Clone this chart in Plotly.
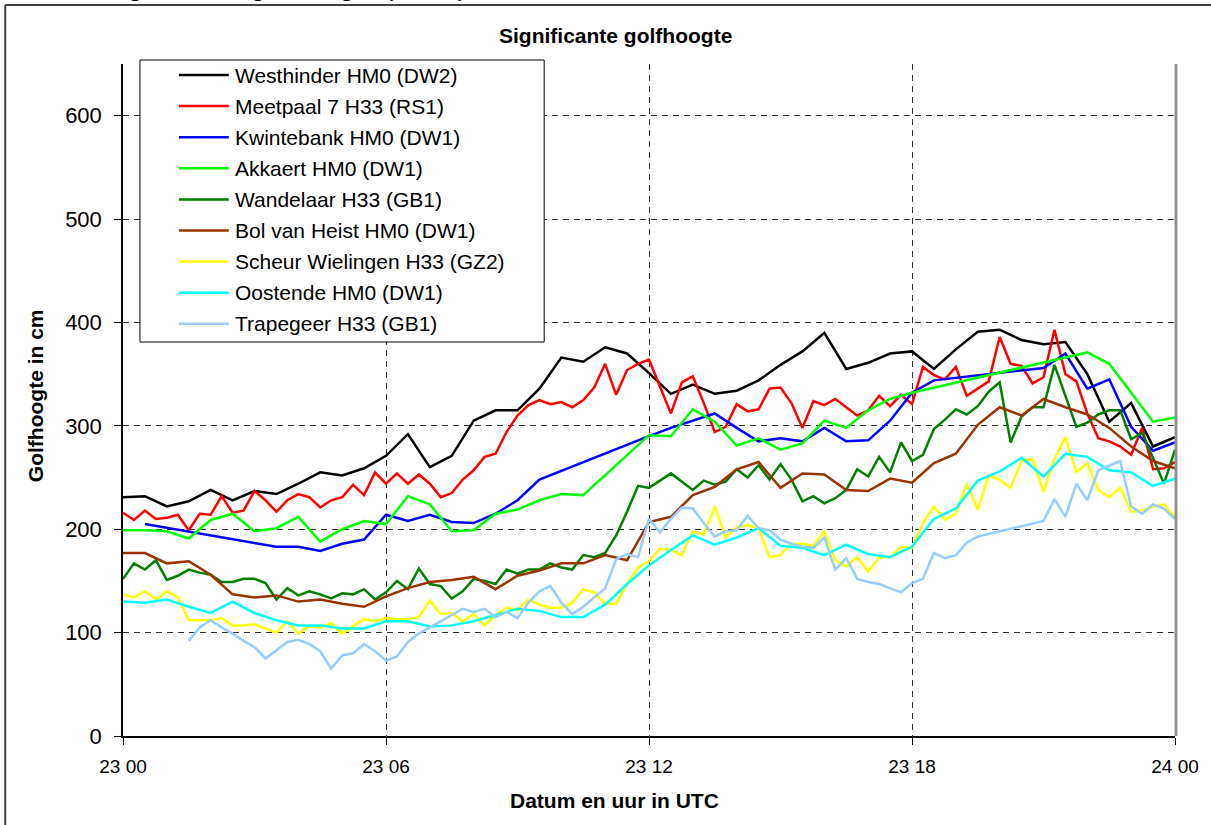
import plotly.graph_objects as go

# ---------------- data ----------------
x_tickvals = [0, 6, 12, 18, 24]
x_ticktext = ["23 00", "23 06", "23 12", "23 18", "24 00"]

series_names = [
    "Westhinder HM0 (DW2)", "Meetpaal 7 H33 (RS1)", "Kwintebank HM0 (DW1)",
    "Akkaert HM0 (DW1)", "Wandelaar H33 (GB1)", "Bol van Heist HM0 (DW1)",
    "Scheur Wielingen H33 (GZ2)", "Oostende HM0 (DW1)", "Trapegeer H33 (GB1)",
]
series_colors = ["#000000", "#FF0000", "#0000FF", "#00FF00", "#008000",
                 "#993300", "#FFFF00", "#00FFFF", "#99CCFF"]

# 30-minute series (23 00 .. 24 00)
westhinder = [231, 232, 222, 227, 238, 228, 237, 234, 244, 255,
              252, 259, 271, 292, 260, 271, 305, 315, 315, 336,
              366, 362, 376, 370, 351, 331, 340, 331, 334, 344,
              359, 372, 390, 355, 361, 370, 372, 355, 374, 391,
              393, 383, 379, 381, 350, 304, 322, 280, 289]
bol_van_heist = [177, 177, 167, 169, 156, 137, 134, 136, 130, 132,
                 128, 125, 135, 143, 149, 151, 154, 142, 155, 160,
                 167, 167, 175, 170, 207, 212, 233, 241, 258, 265,
                 240, 254, 253, 238, 237, 249, 245, 264, 273, 301,
                 318, 310, 326, 318, 311, 298, 280, 266, 259]
oostende = [130, 129, 132, 125, 119, 130, 119, 112, 107, 107,
            104, 104, 111, 111, 106, 107, 111, 117, 123, 121,
            115, 115, 127, 147, 165, 180, 194, 185, 192, 201,
            184, 182, 175, 185, 176, 173, 183, 210, 220, 247,
            256, 269, 251, 273, 270, 257, 255, 242, 249]

# 15-minute series (23 00 .. 24 00)
meetpaal7 = [216, 209, 218, 210, 211, 214, 199, 215, 214, 232,
             216, 218, 237, 228, 217, 228, 234, 231, 221, 228,
             231, 243, 233, 255, 244, 254, 244, 253, 244, 231,
             235, 248, 257, 270, 273, 294, 310, 320, 325, 321,
             323, 318, 325, 337, 360, 330, 354, 360, 364, 338,
             312, 342, 348, 322, 294, 299, 321, 314, 316, 336,
             337, 322, 298, 324, 320, 326, 318, 310, 315, 329,
             319, 330, 321, 357, 349, 345, 357, 329, 336, 343,
             386, 360, 358, 341, 347, 393, 350, 343, 312, 288,
             285, 280, 272, 298, 258, 259, 265]
wandelaar = [152, 167, 161, 170, 151, 155, 161, 158, 156, 149,
             149, 152, 152, 148, 132, 143, 136, 140, 137, 133,
             138, 137, 142, 132, 139, 150, 142, 162, 147, 145,
             133, 140, 152, 150, 147, 161, 157, 161, 161, 167,
             163, 161, 175, 173, 177, 194, 217, 242, 240, 247,
             254, 246, 238, 247, 243, 246, 258, 250, 262, 248,
             263, 248, 227, 232, 225, 230, 238, 258, 251, 270,
             255, 284, 266, 272, 297, 306, 316, 311, 319, 333,
             342, 284, 309, 318, 318, 359, 328, 299, 303, 311,
             315, 315, 287, 293, 269, 244, 277]
scheur_wielingen = [137, 134, 140, 132, 140, 134, 112, 112, 112, 114,
                    107, 107, 108, 104, 100, 111, 99, 106, 105, 109,
                    99, 106, 113, 111, 114, 113, 113, 115, 131, 118,
                    119, 111, 118, 107, 117, 124, 122, 132, 127, 124,
                    124, 129, 142, 139, 128, 128, 147, 163, 169, 181,
                    180, 175, 198, 195, 222, 192, 202, 204, 201, 173,
                    175, 186, 186, 184, 198, 170, 164, 173, 159, 173,
                    173, 183, 182, 206, 222, 209, 215, 244, 219, 252,
                    248, 240, 266, 268, 236, 268, 289, 255, 264, 238,
                    231, 240, 217, 218, 222, 224, 212]
# 15-minute series from 23 01:30 (None = missing value)
trapegeer = [92, 105, 112, 105,
             99, 92, 86, 75, 83, 91, 93, 89, 82, 65,
             78, 80, 89, 82, 73, 77, 91, 99, 105, 111,
             117, 123, 120, 123, 115, 120, 114, 129, 140, 145,
             129, 118, 125, 134, 143, 171, 176, 173, 210, 197,
             210, 221, 220, 206, 193, 198, 199, 213, 201, 199,
             190, 186, 183, 182, 192, 161, 172, 152, 149, 147,
             143, 139, 148, 152, 177, 172, 175, 187, 193, None,
             198, None, None, None, 208, 229, 212, 244, 228, 257,
             None, 266, 222, 215, 224, 220, 210]

# irregular series (hours after 23 00)
kwintebank_t = [0.5, 3.5, 4.0, 4.5, 5.0, 5.5, 6.0, 6.5, 7.0, 7.5, 8.0, 8.5, 9.0, 9.5,
                12.0, 12.5, 13.5, 14.0, 14.5, 15.0, 15.5, 16.0, 16.5, 17.0, 17.5,
                18.0, 18.5, 21.0, 21.5, 22.0, 22.5, 23.0, 23.5, 24.0]
kwintebank = [205, 183, 183, 179, 186, 190, 214, 208, 214, 207, 206, 215, 228, 248,
              290, 298, 312, 298, 285, 288, 285, 298, 285, 286, 305,
              332, 344, 356, 370, 336, 345, 299, 276, 284]
akkaert_t = [0, 0.5, 1.0, 1.5, 2.0, 2.5, 3.0, 3.5, 4.0, 4.5, 5.0, 5.5, 6.0, 6.5,
             7.0, 7.5, 8.0, 8.5, 9.0, 9.5, 10.0, 10.5,
             12.0, 12.5, 13.0, 13.5, 14.0, 14.5, 15.0, 15.5, 16.0, 16.5, 17.0, 17.5, 18.0,
             22.0, 22.5, 23.0, 23.5, 24.0]
akkaert = [199, 199, 198, 191, 209, 215, 198, 201, 212, 188, 200, 208, 205, 232,
           224, 198, 199, 215, 219, 228, 234, 233,
           291, 290, 316, 304, 281, 288, 277, 283, 305, 298, 315, 326, 332,
           371, 360, 332, 304, 308]

t30 = [i * 0.5 for i in range(len(westhinder))]
t15 = [i * 0.25 for i in range(len(meetpaal7))]
t15_trap = [1.5 + i * 0.25 for i in range(len(trapegeer))]

series_x = [t30, t15, kwintebank_t, akkaert_t, t15, t30, t15, t30, t15_trap]
series_y = [westhinder, meetpaal7, kwintebank, akkaert, wandelaar,
            bol_van_heist, scheur_wielingen, oostende, trapegeer]

# ---------------- layout helpers ----------------
W, H = 1211, 825
L, R, T, B = 123, 1177, 64, 736
FONT = "Arial, Liberation Sans, sans-serif"


def px(x):
    return (x - L) / (R - L)


def py(y):
    return (B - y) / (B - T)


fig = go.Figure()
for name, color, xs, ys in zip(series_names, series_colors, series_x, series_y):
    fig.add_trace(go.Scatter(x=xs, y=ys, name=name, mode="lines",
                             line=dict(color=color, width=2.5),
                             connectgaps=True, showlegend=False))

shapes = []
annotations = []

# outer chart frame (partly outside the picture)
shapes.append(dict(type="line", xref="paper", yref="paper", x0=px(5), x1=px(5),
                   y0=py(5), y1=py(840), line=dict(color="#404040", width=2), layer="above"))
shapes.append(dict(type="line", xref="paper", yref="paper", x0=px(5), x1=px(1220),
                   y0=py(5), y1=py(5), line=dict(color="#404040", width=2), layer="above"))
# plot-area right border
shapes.append(dict(type="line", xref="paper", yref="paper", x0=px(1178), x1=px(1178),
                   y0=0, y1=1, line=dict(color="#909090", width=3), layer="above"))

# legend box
shapes.append(dict(type="rect", xref="paper", yref="paper", x0=px(140), x1=px(545),
                   y0=py(342), y1=py(60), line=dict(color="#000000", width=1),
                   fillcolor="#FFFFFF", layer="above"))
for i, (name, color) in enumerate(zip(series_names, series_colors)):
    yc = 75 + 31.1 * i
    shapes.append(dict(type="line", xref="paper", yref="paper", x0=px(179), x1=px(229),
                       y0=py(yc), y1=py(yc), line=dict(color=color, width=2.5), layer="above"))
    annotations.append(dict(xref="paper", yref="paper", x=px(233), y=py(yc),
                            xanchor="left", yanchor="middle", showarrow=False,
                            text=name, font=dict(family=FONT, size=21, color="#000000")))

# titles
annotations.append(dict(xref="paper", yref="paper", x=px(616), y=py(35),
                        xanchor="center", yanchor="middle", showarrow=False,
                        text="<b>Significante golfhoogte</b>",
                        font=dict(family=FONT, size=21, color="#000000")))
annotations.append(dict(xref="paper", yref="paper", x=px(615), y=py(800),
                        xanchor="center", yanchor="middle", showarrow=False,
                        text="<b>Datum en uur in UTC</b>",
                        font=dict(family=FONT, size=21, color="#000000")))
annotations.append(dict(xref="paper", yref="paper", x=px(35), y=py(396),
                        xanchor="center", yanchor="middle", showarrow=False, textangle=-90,
                        text="<b>Golfhoogte in cm</b>",
                        font=dict(family=FONT, size=21, color="#000000")))
# cut-off page title at the very top
annotations.append(dict(xref="paper", yref="paper", x=px(106), y=py(-14),
                        xanchor="left", yanchor="middle", showarrow=False,
                        text="significante golfhoogte (in cm)",
                        font=dict(family=FONT, size=27, color="#000000")))

fig.update_layout(
    width=W, height=H,
    margin=dict(l=L, r=W - R, t=T, b=H - B, pad=0),
    paper_bgcolor="#FFFFFF", plot_bgcolor="#FFFFFF",
    showlegend=False,
    shapes=shapes, annotations=annotations,
    font=dict(family=FONT, color="#000000"),
)
fig.update_xaxes(range=[0, 24], tickvals=x_tickvals, ticktext=x_ticktext,
                 showgrid=True, gridcolor="#333333", gridwidth=1, griddash="6px,5px",
                 showline=True, linecolor="#000000", linewidth=1.5,
                 ticks="outside", ticklen=7, tickcolor="#000000", tickwidth=1,
                 ticklabelstandoff=5,
                 tickfont=dict(family=FONT, size=19, color="#000000"), zeroline=False)
fig.update_yaxes(range=[0, 650], tickvals=[0, 100, 200, 300, 400, 500, 600],
                 showgrid=True, gridcolor="#333333", gridwidth=1, griddash="6px,5px",
                 showline=True, linecolor="#000000", linewidth=1.5,
                 ticks="outside", ticklen=7, tickcolor="#000000", tickwidth=1,
                 ticklabelstandoff=8,
                 tickfont=dict(family=FONT, size=22, color="#000000"), zeroline=False)

fig.write_html("out.html", config={"displayModeBar": False},
               post_script="document.body.style.margin='0';document.body.style.overflow='hidden';")
